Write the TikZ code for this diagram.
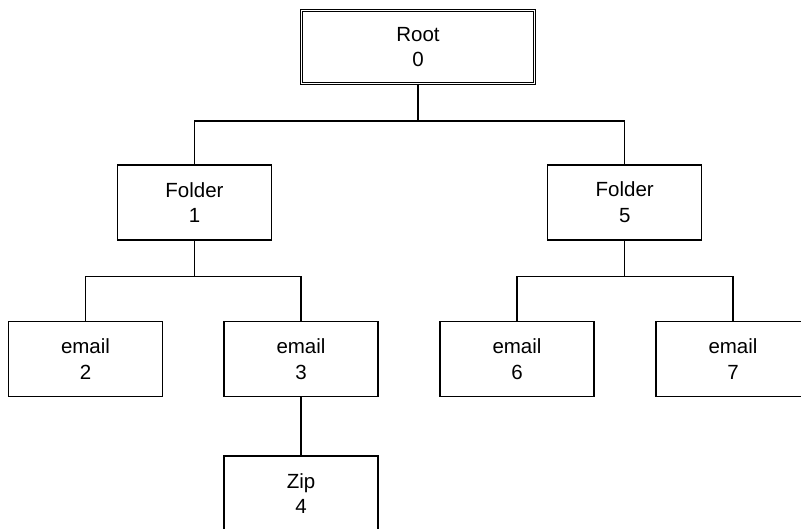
\documentclass[tikz,border=0pt]{standalone}
\usepackage{fontspec}
\setmainfont{Liberation Sans}
\usepackage{tikz}

\begin{document}
\begin{tikzpicture}[x=1pt,y=-1pt,
    box/.style={draw,line width=1.3pt,align=center,minimum width=154pt,minimum height=75pt,inner sep=0pt,
      font=\fontsize{20.5}{25.7}\selectfont},
    rootbox/.style={box,double,line width=0.9pt,double distance=1.5pt,minimum width=233pt,minimum height=73pt},
    link/.style={line width=1.3pt}]
    \clip (0,0) rectangle (801,529);
    % tree nodes
    \node[rootbox] (root) at (418,47) {Root\\0};
    \node[box] (folderA) at (194.5,202.5) {Folder\\1};
    \node[box] (folderB) at (624.7,202.5) {Folder\\5};
    \node[box] (mailA) at (85.5,359) {email\\2};
    \node[box] (mailB) at (301,359) {email\\3};
    \node[box] (zip) at (301,493.5) {Zip\\4};
    \node[box] (mailC) at (517,359) {email\\6};
    \node[box] (mailD) at (733,359) {email\\7};
    % connectors
    \draw[link] (root.south) -- ++(0,37) coordinate (jroot) -| (folderA.north);
    \draw[link] (jroot) -| (folderB.north);
    \draw[link] (folderA.south) -- ++(0,36) coordinate (jA) -| (mailA.north);
    \draw[link] (jA) -| (mailB.north);
    \draw[link] (folderB.south) -- ++(0,36) coordinate (jB) -| (mailC.north);
    \draw[link] (jB) -| (mailD.north);
    \draw[link] (mailB.south) -- (zip.north);
\end{tikzpicture}
\end{document}
